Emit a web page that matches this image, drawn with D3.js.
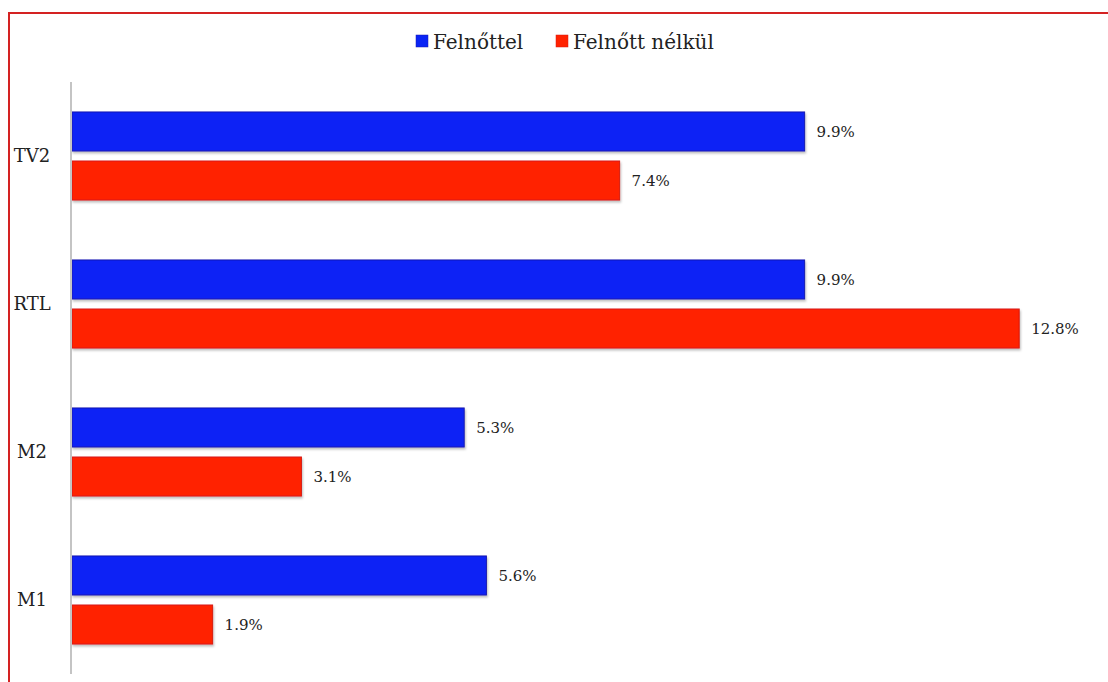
<!DOCTYPE html>
<html>
<head>
<meta charset="utf-8">
<script src="https://cdn.jsdelivr.net/npm/d3@7"></script>
<style>
  html, body { margin: 0; padding: 0; background: #fff; }
  svg { display: block; }
  text { font-family: "DejaVu Serif", "Liberation Serif", serif; fill: #222; }
</style>
</head>
<body>
<svg id="chart" width="1108" height="682"></svg>
<script>
// data
const categories = ["TV2", "RTL", "M2", "M1"];
const seriesNames = ["Felnőttel", "Felnőtt nélkül"];
const withAdult = [9.9, 9.9, 5.3, 5.6];
const withoutAdult = [7.4, 12.8, 3.1, 1.9];
const seriesColors = ["#0a24f5", "#ff2200"];
const seriesStroke = ["#1a1ab0", "#d81a10"];

const svg = d3.select("#chart");
const width = +svg.attr("width");
const height = +svg.attr("height");

// frame (only top + left edges are visible in the crop)
svg.append("path")
  .attr("d", `M9,${height + 5} L9,13 L${width + 5},13`)
  .attr("fill", "none")
  .attr("stroke", "#d42222")
  .attr("stroke-width", 2);

// soft shadow under bars
const defs = svg.append("defs");
const f = defs.append("filter").attr("id", "shadow")
  .attr("x", "-5%").attr("y", "-20%").attr("width", "110%").attr("height", "160%");
f.append("feDropShadow")
  .attr("dx", 1).attr("dy", 2).attr("stdDeviation", 1.2)
  .attr("flood-color", "#000").attr("flood-opacity", 0.25);

// scales
const x = d3.scaleLinear().domain([0, 14]).range([72, 72 + 14 * 74]);

const y = d3.scaleBand()
  .domain(categories)
  .range([82, 674])
  .paddingInner(0.405)
  .paddingOuter(0.2025);

const ySub = d3.scaleBand()
  .domain(seriesNames)
  .range([0, y.bandwidth()])
  .paddingInner(0.204);

const rows = categories.map((c, i) => ({
  cat: c,
  values: [withAdult[i], withoutAdult[i]]
}));

// bars
const group = svg.append("g")
  .selectAll("g")
  .data(rows)
  .join("g")
    .attr("transform", d => `translate(0,${y(d.cat)})`);

group.selectAll("rect")
  .data(d => d.values.map((v, k) => ({ v, k })))
  .join("rect")
    .attr("x", x(0))
    .attr("y", d => ySub(seriesNames[d.k]))
    .attr("width", d => x(d.v) - x(0))
    .attr("height", ySub.bandwidth())
    .attr("fill", d => seriesColors[d.k])
    .attr("stroke", d => seriesStroke[d.k])
    .attr("stroke-width", 1)
    .attr("filter", "url(#shadow)");

// value labels
group.selectAll("text.val")
  .data(d => d.values.map((v, k) => ({ v, k })))
  .join("text")
    .attr("class", "val")
    .attr("x", d => x(d.v) + 12)
    .attr("y", d => ySub(seriesNames[d.k]) + ySub.bandwidth() / 2)
    .attr("dy", "0.38em")
    .style("font-size", "15px")
    .text(d => d.v.toFixed(1) + "%");

// category labels
svg.append("g")
  .selectAll("text")
  .data(categories)
  .join("text")
    .attr("x", 32)
    .attr("y", d => y(d) + y.bandwidth() / 2)
    .attr("dy", "0.36em")
    .attr("text-anchor", "middle")
    .style("font-size", "18px")
    .text(d => d);

// axis line
svg.append("line")
  .attr("x1", 71).attr("x2", 71)
  .attr("y1", y.range()[0]).attr("y2", y.range()[1])
  .attr("stroke", "#c4c4c4")
  .attr("stroke-width", 2);

// legend
const legendX = [416, 556];
const legend = svg.append("g")
  .selectAll("g")
  .data(seriesNames)
  .join("g")
    .attr("transform", (d, i) => `translate(${legendX[i]},35)`);

legend.append("rect")
  .attr("width", 12).attr("height", 12)
  .attr("fill", (d, i) => seriesColors[i])
  .attr("stroke", (d, i) => seriesStroke[i])
  .attr("stroke-width", 0.5);

legend.append("text")
  .attr("x", 17)
  .attr("y", 14)
  .style("font-size", "20px")
  .text(d => d);
</script>
</body>
</html>
